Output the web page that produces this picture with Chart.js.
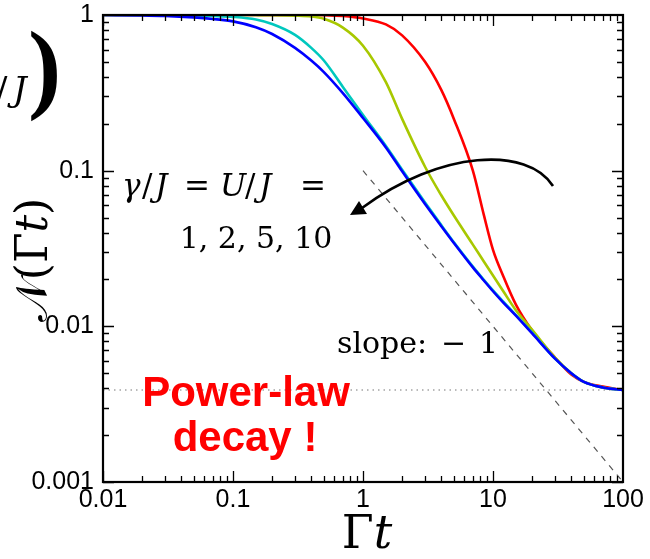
<!DOCTYPE html>
<html>
<head>
<meta charset="utf-8">
<script src="https://cdn.jsdelivr.net/npm/chart.js@4"></script>
<style>
  html, body { margin: 0; padding: 0; background: #fff; }
  #wrap { width: 650px; height: 559px; }
</style>
</head>
<body>
<div id="wrap"><canvas id="c" width="650" height="559"></canvas></div>
<script>
// time grid (Γt) and normalised survival N(Γt) for γ/J = U/J = 1, 2, 5, 10
const tValues = [0.01, 0.02, 0.03, 0.05, 0.07, 0.1, 0.15, 0.2, 0.3, 0.4, 0.5, 0.7, 1, 1.5, 2, 3, 4, 5, 7, 8.5, 10, 12, 15, 20, 30, 40, 50, 70, 100];
const gamma1  = [1, 0.995, 0.987, 0.965, 0.943, 0.91, 0.835, 0.755, 0.615, 0.51, 0.43, 0.315, 0.218, 0.141, 0.099, 0.061, 0.044, 0.0343, 0.0239, 0.0197, 0.0168, 0.0142, 0.0117, 0.009, 0.0062, 0.005, 0.0044, 0.00405, 0.0039];
const gamma2  = [1, 1, 0.998, 0.993, 0.985, 0.972, 0.935, 0.875, 0.745, 0.615, 0.51, 0.345, 0.228, 0.144, 0.1015, 0.0625, 0.0447, 0.0347, 0.0242, 0.0199, 0.017, 0.0144, 0.0118, 0.0091, 0.0062, 0.005, 0.0044, 0.00405, 0.0039];
const gamma5  = [1, 1, 1, 1, 1, 1, 0.999, 0.997, 0.99, 0.978, 0.945, 0.83, 0.635, 0.37, 0.215, 0.106, 0.0695, 0.0515, 0.0335, 0.0261, 0.0212, 0.0168, 0.0127, 0.0095, 0.0063, 0.005, 0.0044, 0.00405, 0.0039];
const gamma10 = [1, 1, 1, 1, 1, 1, 1, 1, 1, 1, 0.998, 0.985, 0.95, 0.87, 0.74, 0.5, 0.33, 0.215, 0.1, 0.052, 0.031, 0.021, 0.0138, 0.0094, 0.0063, 0.0049, 0.0044, 0.0041, 0.0039];

// guide lines: slope -1 and long-time plateau
const slopeT = [1, 100];
const slopeN = [0.1, 0.001];
const floorT = [0.01, 100];
const floorN = [0.0039, 0.0039];

const xTicks = [0.01, 0.1, 1, 10, 100];
const yTicks = [0.001, 0.01, 0.1, 1];

const pts = (xs, ys) => xs.map((x, i) => ({ x: x, y: ys[i] }));
const SERIF = '"DejaVu Serif"';

function curve(data, color){
  return { data: pts(tValues, data), borderColor: color, borderWidth: 2.6, pointRadius: 0,
           cubicInterpolationMode: 'monotone', fill: false, order: 0 };
}

function fontOf(style, size){
  return (style === 'i' ? 'italic ' : '') + (style === 'b' ? 'bold ' : '') + size + 'px ' + SERIF;
}

function rich(ctx, parts, x, y, size, align){
  let w = 0;
  parts.forEach(p => { ctx.font = fontOf(p[1], size); w += ctx.measureText(p[0]).width; });
  let cx = align === 'center' ? x - w / 2 : x;
  ctx.textAlign = 'left';
  parts.forEach(p => { ctx.font = fontOf(p[1], size); ctx.fillText(p[0], cx, y); cx += ctx.measureText(p[0]).width; });
}

// glyphs placed at fixed x positions (LaTeX-like spacing)
function placed(ctx, parts, y, size){
  ctx.textAlign = 'left';
  parts.forEach(p => { ctx.font = fontOf(p[1], size); ctx.fillText(p[0], p[2], y); });
}

const frame = {
  id: 'frame',
  afterDatasetsDraw(chart){
    const { ctx, chartArea: a, scales: { x, y } } = chart;
    ctx.save();
    ctx.strokeStyle = '#000';
    ctx.lineWidth = 1.3;
    ctx.beginPath();
    for (let d = 0.01; d < 99; d *= 10) {
      for (let m = 1; m < 10; m++) {
        const len = m === 1 ? 11 : 6;
        const px = Math.round(x.getPixelForValue(d * m)) + 0.5;
        ctx.moveTo(px, a.bottom); ctx.lineTo(px, a.bottom - len);
        ctx.moveTo(px, a.top); ctx.lineTo(px, a.top + len);
      }
    }
    for (let d = 0.001; d < 0.99; d *= 10) {
      for (let m = 1; m < 10; m++) {
        const len = m === 1 ? 11 : 6;
        const py = Math.round(y.getPixelForValue(d * m)) + 0.5;
        ctx.moveTo(a.left, py); ctx.lineTo(a.left + len, py);
        ctx.moveTo(a.right, py); ctx.lineTo(a.right - len, py);
      }
    }
    ctx.stroke();
    ctx.lineWidth = 2.2;
    ctx.strokeRect(a.left, a.top, a.right - a.left, a.bottom - a.top);
    ctx.restore();
  },
  afterDraw(chart){
    const ctx = chart.ctx;
    ctx.save();
    ctx.fillStyle = '#000';
    ctx.textBaseline = 'alphabetic';

    // legend-like annotation
    placed(ctx, [['γ', 'i', 122], ['/', '', 142], ['J', 'i', 155], ['=', '', 184],
                 ['U', 'i', 220], ['/', '', 245], ['J', 'i', 259], ['=', '', 300]], 196, 31);
    rich(ctx, [['1, 2, 5, 10', '']], 256, 248, 30, 'center');
    placed(ctx, [['slope:', '', 337], ['−', '', 441], ['1', '', 479]], 353, 30);

    // curved arrow
    ctx.strokeStyle = '#000';
    ctx.lineWidth = 2.6;
    ctx.beginPath();
    ctx.moveTo(553, 186);
    ctx.bezierCurveTo(528, 146, 440, 150, 362, 208);
    ctx.stroke();
    ctx.beginPath();
    ctx.moveTo(350, 215);
    ctx.lineTo(359, 201);
    ctx.lineTo(367, 214);
    ctx.closePath();
    ctx.fill();

    // red note
    ctx.fillStyle = '#ff0000';
    ctx.textAlign = 'center';
    ctx.font = 'bold 42px "Liberation Sans"';
    ctx.fillText('Power-law', 246, 406);
    ctx.fillText('decay !', 245, 451);

    // axis titles
    ctx.fillStyle = '#000';
    ctx.textBaseline = 'middle';
    rich(ctx, [['Γ', ''], ['t', 'i']], 367, 536, 46, 'center');
    ctx.save();
    ctx.translate(36, 260);
    ctx.rotate(-Math.PI / 2);
    rich(ctx, [['𝒩', ''], ['(Γ', ''], ['t', 'i'], [')', '']], 0, 0, 44, 'center');
    ctx.restore();

    // clipped fragment of the panel label at top left
    ctx.textBaseline = 'alphabetic';
    placed(ctx, [['/', '', -4], ['J', 'i', 13]], 101, 34);
    ctx.font = 'bold 100px "Liberation Serif"';
    ctx.textAlign = 'left';
    ctx.fillText(')', 28, 100);
    ctx.restore();
  }
};

new Chart(document.getElementById('c'), {
  type: 'line',
  data: {
    datasets: [
      curve(gamma1, '#0000ff'),
      curve(gamma2, '#00c8be'),
      curve(gamma5, '#a8c800'),
      curve(gamma10, '#ff0000'),
      { data: pts(slopeT, slopeN), borderColor: '#555', borderWidth: 1.2, borderDash: [6, 6], pointRadius: 0, order: 1 },
      { data: pts(floorT, floorN), borderColor: '#777', borderWidth: 1.2, borderDash: [1.5, 4], pointRadius: 0, order: 1 }
    ]
  },
  options: {
    responsive: false,
    animation: false,
    layout: { padding: { top: 15, right: 27, left: 0, bottom: 0 } },
    plugins: { legend: { display: false }, tooltip: { enabled: false } },
    scales: {
      x: {
        type: 'logarithmic', min: 0.01, max: 100,
        grid: { display: false, drawTicks: false }, border: { display: false },
        afterBuildTicks: s => { s.ticks = xTicks.map(v => ({ value: v })); },
        afterFit: s => { s.height = 77; s.paddingLeft = 0; s.paddingRight = 0; },
        ticks: { font: { family: 'Liberation Sans', size: 25 }, color: '#000', padding: 3,
                 maxRotation: 0, autoSkip: false, callback: v => String(v) }
      },
      y: {
        type: 'logarithmic', min: 0.001, max: 1,
        grid: { display: false, drawTicks: false }, border: { display: false },
        afterBuildTicks: s => { s.ticks = yTicks.map(v => ({ value: v })); },
        afterFit: s => { s.width = 103; s.paddingTop = 0; s.paddingBottom = 0; },
        ticks: { font: { family: 'Liberation Sans', size: 25 }, color: '#000', padding: 9,
                 autoSkip: false, callback: v => String(v) }
      }
    }
  },
  plugins: [frame]
});
</script>
</body>
</html>
